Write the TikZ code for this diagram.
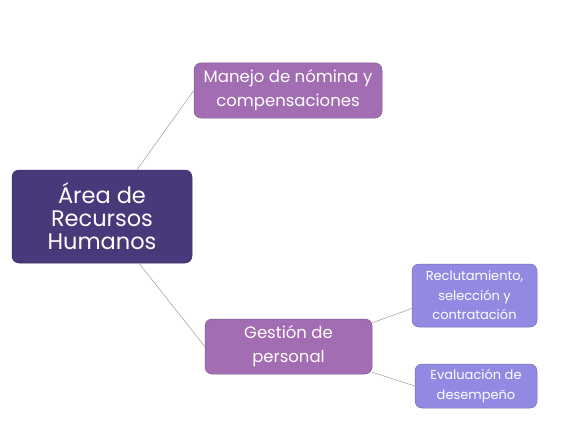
\documentclass[tikz,border=0pt]{standalone}
\usepackage{fontspec}
\setmainfont{Poppins}
\usetikzlibrary{calc}
\definecolor{rootc}{HTML}{47397A}
\definecolor{midc}{HTML}{A26DB2}
\definecolor{leafc}{HTML}{928AE2}
\definecolor{linec}{HTML}{A8A8A8}
\tikzset{
  box/.style={draw=#1!80!black, line width=0.5pt, fill=#1, rounded corners=7pt, text=white, align=center, inner sep=0pt},
  rootbox/.style={box=rootc, minimum width=180pt, minimum height=93pt, font=\fontsize{22.5}{23}\selectfont},
  midbox/.style={box=midc, font=\fontsize{16.5}{24}\selectfont},
  leafbox/.style={box=leafc, font=\fontsize{13}{19.5}\selectfont},
  conn/.style={draw=linec, line width=0.6pt}
}
\begin{document}
\begin{tikzpicture}[x=1pt,y=-1pt]
\useasboundingbox (0,0) rectangle (577,433);
\node[rootbox] (root) at (102,216.5) {Área de\\Recursos\\Humanos};
\node[midbox, minimum width=188pt, minimum height=55pt] (man) at (288,90.5) {Manejo de nómina y\\compensaciones};
\node[midbox, minimum width=167pt, minimum height=55pt] (ges) at (288.5,346.5) {Gestión de\\personal};
\node[leafbox, minimum width=125pt, minimum height=63pt] (rec) at (474.5,295.5) {Reclutamiento,\\selección y\\contratación};
\node[leafbox, minimum width=122pt, minimum height=44pt] (eva) at (476,386) {Evaluación de\\desempeño};
\draw[conn] ([xshift=35pt]root.north) -- (man.west);
\draw[conn] ([xshift=37pt]root.south) -- (ges.west);
\draw[conn] ([yshift=-4pt]ges.north east) -- ([yshift=-13pt]rec.west);
\draw[conn] ([yshift=2pt]ges.south east) -- (eva.west);
\end{tikzpicture}
\end{document}
